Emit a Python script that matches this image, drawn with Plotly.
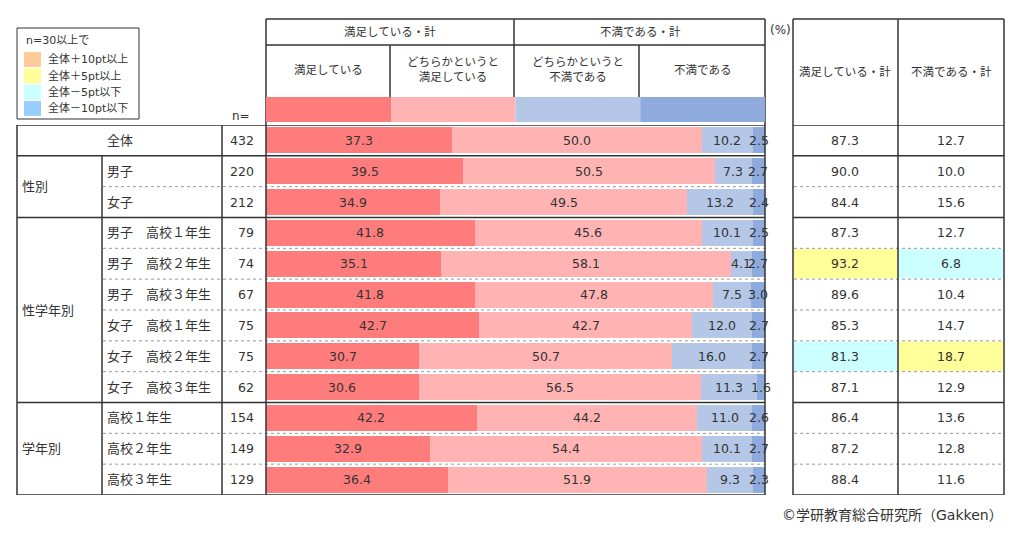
import plotly.graph_objects as go

# 満足度の集計（%）
labels = ["全体", "男子", "女子",
          "男子　高校１年生", "男子　高校２年生", "男子　高校３年生",
          "女子　高校１年生", "女子　高校２年生", "女子　高校３年生",
          "高校１年生", "高校２年生", "高校３年生"]
n_values = [432, 220, 212, 79, 74, 67, 75, 75, 62, 154, 149, 129]
satisfied = [37.3, 39.5, 34.9, 41.8, 35.1, 41.8, 42.7, 30.7, 30.6, 42.2, 32.9, 36.4]
rather_satisfied = [50.0, 50.5, 49.5, 45.6, 58.1, 47.8, 42.7, 50.7, 56.5, 44.2, 54.4, 51.9]
rather_dissatisfied = [10.2, 7.3, 13.2, 10.1, 4.1, 7.5, 12.0, 16.0, 11.3, 11.0, 10.1, 9.3]
dissatisfied = [2.5, 2.7, 2.4, 2.5, 2.7, 3.0, 2.7, 2.7, 1.6, 2.6, 2.7, 2.3]
sat_total = [87.3, 90.0, 84.4, 87.3, 93.2, 89.6, 85.3, 81.3, 87.1, 86.4, 87.2, 88.4]
dis_total = [12.7, 10.0, 15.6, 12.7, 6.8, 10.4, 14.7, 18.7, 12.9, 13.6, 12.8, 11.6]
series_names = ["満足している", "どちらかというと<br>満足している",
                "どちらかというと<br>不満である", "不満である"]
groups = [("性別", 1, 2), ("性学年別", 3, 8), ("学年別", 9, 11)]
legend_items = ["全体＋10pt以上", "全体＋5pt以上", "全体－5pt以下", "全体－10pt以下"]

colors = ["#FF7C7C", "#FFB3B3", "#B4C7E7", "#8FAADC"]
hl_colors = ["#FFCC99", "#FFFF99", "#CCFFFF", "#99CCFF"]
FONT = "DejaVu Sans, Noto Sans CJK JP"
TXT = "#333333"
# the page body has an 8px margin, so the figure is a bit smaller than the window
OFF = 8
W, H = 1031 - 2 * OFF, 534 - 2 * OFF


def px(x):
    return (x - OFF) / W


def py(y):
    return 1 - (y - OFF) / H


series = [satisfied, rather_satisfied, rather_dissatisfied, dissatisfied]

fig = go.Figure()
for vals, name, col in zip(series, series_names, colors):
    fig.add_trace(go.Bar(x=vals, y=labels, orientation="h", name=name,
                         marker=dict(color=col, line=dict(width=0)),
                         width=0.84, hoverinfo="x+y"))

ann = []
shapes = []


def text(x, y, s, xref="paper", yref="paper", xa="center", size=13):
    ann.append(dict(x=x, y=y, xref=xref, yref=yref, text=s, showarrow=False,
                    xanchor=xa, yanchor="middle", font=dict(size=size, color=TXT)))


# bar labels
for i, lab in enumerate(labels):
    left = 0
    for vals in series:
        text(left + vals[i] / 2, lab, f"{vals[i]:.1f}", xref="x", yref="y", size=12.5)
        left += vals[i]

# left table text
for i, lab in enumerate(labels):
    if i == 0:
        text(px(120), lab, lab, yref="y")
    else:
        text(px(105), lab, lab, yref="y", xa="left")
    text(px(256), lab, str(n_values[i]), yref="y", xa="right", size=12.5)
for g, a, b in groups:
    text(px(20), (a + b) / 2, g, yref="y", xa="left")

# right table: totals with highlight vs 全体
for i, lab in enumerate(labels):
    for tot, xc, x0, x1 in [(sat_total, 845, 794, 897), (dis_total, 951, 899, 1003)]:
        text(px(xc), lab, f"{tot[i]:.1f}", yref="y", size=12.5)
        d = tot[i] - tot[0]
        hl = None
        if i > 0 and n_values[i] >= 30:
            if d >= 10:
                hl = hl_colors[0]
            elif d >= 5:
                hl = hl_colors[1]
            elif d <= -10:
                hl = hl_colors[3]
            elif d <= -5:
                hl = hl_colors[2]
        if hl:
            shapes.append(dict(type="rect", xref="paper", yref="y", x0=px(x0), x1=px(x1),
                               y0=i - 0.48, y1=i + 0.48, fillcolor=hl, line=dict(width=0),
                               layer="below"))

# table lines
solid = dict(color="#333333", width=1.5)
dashed = dict(color="#999999", width=1, dash="dot")


def hline(x0, x1, yv, line, yref="y"):
    shapes.append(dict(type="line", xref="paper", yref=yref, x0=px(x0), x1=px(x1),
                       y0=yv, y1=yv, line=line))


def vline(xv, y0, y1, line=solid):
    shapes.append(dict(type="line", xref="paper", yref="paper", x0=px(xv), x1=px(xv),
                       y0=py(y0), y1=py(y1), line=line))


solid_bounds = [0, 1, 3, 9, 12]
for k in range(13):
    yv = k - 0.5
    if k in solid_bounds:
        hline(17, 765, yv, solid)
        hline(793, 1004, yv, solid)
    else:
        hline(103, 765, yv, dashed)
        hline(794, 1003, yv, dashed)

vline(17, 125, 495)
vline(102, 156, 495)
vline(222, 125, 495)
vline(266, 19, 495)
vline(765, 19, 495)
vline(514, 19, 122)
vline(390, 45, 122)
vline(639, 45, 122)
hline(266, 765, py(19), solid, "paper")
hline(266, 765, py(45), solid, "paper")
vline(793, 19, 495)
vline(898, 19, 495)
vline(1004, 19, 495)
hline(793, 1004, py(19), solid, "paper")

# header swatches, one per quarter of the bar axis
for k, col in enumerate(colors):
    shapes.append(dict(type="rect", xref="x", yref="paper", x0=k * 25, x1=(k + 1) * 25,
                       y0=py(122), y1=py(97), fillcolor=col, line=dict(width=0)))
    text(k * 25 + 12.5, py(70), series_names[k], xref="x", size=11.5)

text(px(390), py(32), "満足している・計", size=11.5)
text(px(640), py(32), "不満である・計", size=11.5)
text(px(845), py(72), "満足している・計", size=11.5)
text(px(951), py(72), "不満である・計", size=11.5)
text(px(768), py(30), "(%)", xa="left", size=12)
text(px(252), py(116), "n=", xa="right", size=12)
text(px(1005), py(515), "©学研教育総合研究所（Gakken）", xa="right", size=14)

# colour key box
shapes.append(dict(type="rect", xref="paper", yref="paper", x0=px(17), x1=px(139),
                   y0=py(119), y1=py(28), line=dict(color="#333333", width=1)))
text(px(24), py(41), "n=30以上で", xa="left", size=11)
for k, (txt, col) in enumerate(zip(legend_items, hl_colors)):
    top = 52 + k * 16.3
    shapes.append(dict(type="rect", xref="paper", yref="paper", x0=px(24), x1=px(41),
                       y0=py(top + 15), y1=py(top), fillcolor=col, line=dict(width=0)))
    text(px(46), py(top + 7.5), txt, xa="left", size=11)

fig.update_layout(
    barmode="stack", width=W, height=H, showlegend=False,
    margin=dict(l=0, r=0, t=0, b=0),
    paper_bgcolor="white", plot_bgcolor="white",
    font=dict(family=FONT, color=TXT),
    xaxis=dict(domain=[px(266), px(765)], range=[0, 100], visible=False, fixedrange=True),
    yaxis=dict(domain=[py(495), py(125)], type="category", categoryarray=labels,
               range=[11.5, -0.5], visible=False, fixedrange=True),
    annotations=ann, shapes=shapes,
)

fig.write_html("out.html")
